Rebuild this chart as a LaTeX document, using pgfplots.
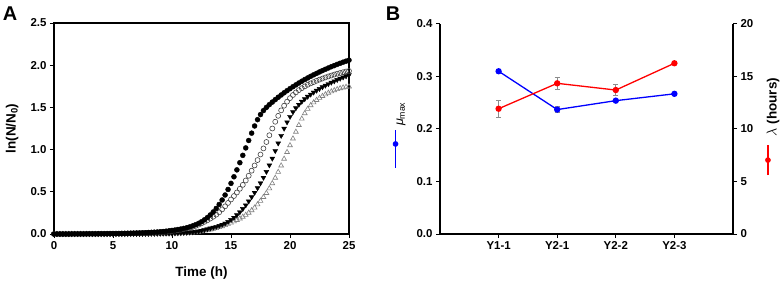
\documentclass[border=0pt]{standalone}
\usepackage{pgfplots}
\pgfplotsset{compat=1.18}
\usepackage{fontspec}
\setmainfont{Liberation Sans}
\begin{document}
\begin{tikzpicture}
\useasboundingbox (0,0) rectangle (782bp,282bp);
\pgfplotsset{
  every axis/.append style={
    scale only axis,
    axis line style={line width=1.1bp},
    tick style={line width=1bp, black},
    tick align=outside,
    major tick length=4bp,
    tick label style={font=\bfseries\fontsize{11.5}{12}\selectfont},
    /pgf/number format/assume math mode=true,
    label style={font=\bfseries\fontsize{13.5}{14}\selectfont},
  }
}
% ---------------- Panel A ----------------
\begin{axis}[at={(54bp,48bp)}, anchor=south west, width=295bp, height=211bp,
  xmin=0, xmax=25, ymin=0, ymax=2.5,
  xtick={0,5,...,25}, ytick={0,0.5,...,2.5},
  yticklabel style={/pgf/number format/.cd, fixed, fixed zerofill, precision=1},
  xtick pos=bottom, ytick pos=left,
  xlabel={Time (h)}, ylabel={ln(N/N\textsubscript{0})},
  xlabel style={at={(axis description cs:0.5,-0.185)}, anchor=center},
  ylabel style={at={(axis description cs:-0.142,0.5)}, anchor=center},
]
\addplot[only marks, mark=triangle, mark size=2.8bp, mark options={black!50, line width=0.6bp}] coordinates {
(0,0)(0.25,0)(0.5,0)(0.75,0)(1,0)(1.25,0)(1.5,0)(1.75,0)(2,0)(2.25,0)(2.5,0)(2.75,0)(3,0)(3.25,0)(3.5,0)(3.75,0)(4,0)(4.25,0)(4.5,0)(4.75,0)(5,0)(5.25,0)(5.5,0.001)(5.75,0.001)(6,0.001)(6.25,0.001)(6.5,0.001)(6.75,0.001)(7,0.002)(7.25,0.002)(7.5,0.002)(7.75,0.002)(8,0.002)(8.25,0.003)(8.5,0.003)(8.75,0.003)(9,0.004)(9.25,0.004)(9.5,0.005)(9.75,0.005)(10,0.006)(10.25,0.007)(10.5,0.008)(10.75,0.009)(11,0.010)(11.25,0.012)(11.5,0.014)(11.75,0.017)(12,0.020)(12.25,0.025)(12.5,0.031)(12.75,0.038)(13,0.045)(13.25,0.052)(13.5,0.060)(13.75,0.069)(14,0.080)(14.25,0.091)(14.5,0.104)(14.75,0.118)(15,0.133)(15.25,0.148)(15.5,0.165)(15.75,0.183)(16,0.203)(16.25,0.226)(16.5,0.251)(16.75,0.280)(17,0.312)(17.25,0.350)(17.5,0.392)(17.75,0.437)(18,0.485)(18.25,0.540)(18.5,0.600)(18.75,0.665)(19,0.735)(19.25,0.810)(19.5,0.890)(19.75,0.970)(20,1.050)(20.25,1.130)(20.5,1.210)(20.75,1.290)(21,1.365)(21.25,1.430)(21.5,1.482)(21.75,1.524)(22,1.558)(22.25,1.587)(22.5,1.612)(22.75,1.634)(23,1.654)(23.25,1.672)(23.5,1.688)(23.75,1.702)(24,1.715)(24.25,1.726)(24.5,1.735)(24.75,1.742)(25,1.747)};
\addplot[only marks, mark=triangle*, mark size=2.8bp, mark options={black, rotate=180}] coordinates {
(0,0)(0.25,0)(0.5,0)(0.75,0)(1,0)(1.25,0)(1.5,0)(1.75,0)(2,0)(2.25,0)(2.5,0)(2.75,0)(3,0)(3.25,0)(3.5,0)(3.75,0)(4,0)(4.25,0)(4.5,0)(4.75,0)(5,0.001)(5.25,0.001)(5.5,0.001)(5.75,0.001)(6,0.001)(6.25,0.001)(6.5,0.002)(6.75,0.002)(7,0.002)(7.25,0.002)(7.5,0.003)(7.75,0.003)(8,0.003)(8.25,0.004)(8.5,0.004)(8.75,0.005)(9,0.005)(9.25,0.006)(9.5,0.007)(9.75,0.007)(10,0.008)(10.25,0.009)(10.5,0.011)(10.75,0.012)(11,0.014)(11.25,0.016)(11.5,0.019)(11.75,0.022)(12,0.026)(12.25,0.032)(12.5,0.040)(12.75,0.049)(13,0.058)(13.25,0.067)(13.5,0.077)(13.75,0.087)(14,0.098)(14.25,0.111)(14.5,0.126)(14.75,0.145)(15,0.168)(15.25,0.194)(15.5,0.224)(15.75,0.259)(16,0.298)(16.25,0.341)(16.5,0.388)(16.75,0.438)(17,0.490)(17.25,0.545)(17.5,0.603)(17.75,0.668)(18,0.738)(18.25,0.815)(18.5,0.895)(18.75,0.985)(19,1.075)(19.25,1.165)(19.5,1.250)(19.75,1.325)(20,1.390)(20.25,1.445)(20.5,1.492)(20.75,1.533)(21,1.569)(21.25,1.600)(21.5,1.628)(21.75,1.654)(22,1.678)(22.25,1.700)(22.5,1.721)(22.75,1.741)(23,1.760)(23.25,1.778)(23.5,1.795)(23.75,1.811)(24,1.827)(24.25,1.842)(24.5,1.857)(24.75,1.871)(25,1.885)};
\addplot[only marks, mark=o, mark size=2.5bp, mark options={black!75, line width=0.6bp}] coordinates {
(0,0)(0.25,0)(0.5,0)(0.75,0)(1,0)(1.25,0)(1.5,0)(1.75,0.001)(2,0.001)(2.25,0.001)(2.5,0.001)(2.75,0.001)(3,0.002)(3.25,0.002)(3.5,0.002)(3.75,0.002)(4,0.003)(4.25,0.003)(4.5,0.003)(4.75,0.004)(5,0.004)(5.25,0.005)(5.5,0.005)(5.75,0.006)(6,0.006)(6.25,0.007)(6.5,0.008)(6.75,0.009)(7,0.010)(7.25,0.011)(7.5,0.012)(7.75,0.013)(8,0.015)(8.25,0.016)(8.5,0.018)(8.75,0.020)(9,0.022)(9.25,0.025)(9.5,0.028)(9.75,0.032)(10,0.036)(10.25,0.040)(10.5,0.045)(10.75,0.051)(11,0.058)(11.25,0.066)(11.5,0.074)(11.75,0.084)(12,0.096)(12.25,0.111)(12.5,0.127)(12.75,0.144)(13,0.163)(13.25,0.183)(13.5,0.205)(13.75,0.229)(14,0.257)(14.25,0.292)(14.5,0.328)(14.75,0.368)(15,0.409)(15.25,0.450)(15.5,0.492)(15.75,0.536)(16,0.582)(16.25,0.634)(16.5,0.690)(16.75,0.750)(17,0.812)(17.25,0.876)(17.5,0.942)(17.75,1.014)(18,1.090)(18.25,1.170)(18.5,1.250)(18.75,1.330)(19,1.400)(19.25,1.465)(19.5,1.520)(19.75,1.568)(20,1.610)(20.25,1.647)(20.5,1.678)(20.75,1.705)(21,1.728)(21.25,1.749)(21.5,1.768)(21.75,1.785)(22,1.800)(22.25,1.815)(22.5,1.829)(22.75,1.842)(23,1.855)(23.25,1.867)(23.5,1.878)(23.75,1.889)(24,1.899)(24.25,1.908)(24.5,1.917)(24.75,1.925)(25,1.932)};
\addplot[only marks, mark=*, mark size=2.5bp, mark options={black}] coordinates {
(0,0)(0.25,0)(0.5,0)(0.75,0)(1,0)(1.25,0)(1.5,0.001)(1.75,0.001)(2,0.001)(2.25,0.001)(2.5,0.001)(2.75,0.002)(3,0.002)(3.25,0.002)(3.5,0.002)(3.75,0.003)(4,0.003)(4.25,0.003)(4.5,0.004)(4.75,0.004)(5,0.005)(5.25,0.005)(5.5,0.006)(5.75,0.006)(6,0.007)(6.25,0.008)(6.5,0.009)(6.75,0.010)(7,0.011)(7.25,0.012)(7.5,0.013)(7.75,0.015)(8,0.017)(8.25,0.019)(8.5,0.021)(8.75,0.023)(9,0.026)(9.25,0.029)(9.5,0.033)(9.75,0.037)(10,0.042)(10.25,0.047)(10.5,0.053)(10.75,0.059)(11,0.066)(11.25,0.074)(11.5,0.084)(11.75,0.096)(12,0.110)(12.25,0.126)(12.5,0.145)(12.75,0.168)(13,0.195)(13.25,0.226)(13.5,0.262)(13.75,0.303)(14,0.350)(14.25,0.403)(14.5,0.462)(14.75,0.528)(15,0.600)(15.25,0.678)(15.5,0.760)(15.75,0.845)(16,0.932)(16.25,1.020)(16.5,1.108)(16.75,1.195)(17,1.280)(17.25,1.355)(17.5,1.415)(17.75,1.462)(18,1.500)(18.25,1.533)(18.5,1.563)(18.75,1.592)(19,1.620)(19.25,1.647)(19.5,1.673)(19.75,1.698)(20,1.722)(20.25,1.745)(20.5,1.767)(20.75,1.789)(21,1.810)(21.25,1.830)(21.5,1.849)(21.75,1.868)(22,1.886)(22.25,1.903)(22.5,1.920)(22.75,1.936)(23,1.952)(23.25,1.967)(23.5,1.982)(23.75,1.996)(24,2.010)(24.25,2.023)(24.5,2.036)(24.75,2.048)(25,2.060)};
\end{axis}
% ---------------- Panel B, left axis ----------------
\begin{axis}[at={(440bp,48bp)}, anchor=south west, width=293bp, height=210bp,
  xmin=0, xmax=5, ymin=0, ymax=0.4,
  axis x line*=bottom, axis y line*=left, axis line style={-},
  xtick={1,2,3,4}, xticklabels={Y1-1,Y2-1,Y2-2,Y2-3},
  ytick={0,0.1,...,0.4},
  yticklabel style={/pgf/number format/.cd, fixed, fixed zerofill, precision=1},
  ylabel={{\itshape μ}\textsubscript{max}},
  ylabel style={at={(axis description cs:-0.133,0.571)}, anchor=center, font=\fontsize{12.5}{13}\selectfont},
  legend image code/.code={\draw[draw=blue, line width=1.6bp] (0bp,-19bp) -- (0bp,19bp); \fill[fill=blue] (0bp,5bp) circle (2.6bp);},
  legend style={at={(axis description cs:-0.145,0.405)}, anchor=center, draw=none, fill=none, inner sep=0pt},
]
\addlegendimage{blue}
\addlegendentry{}
\addplot[blue, line width=1.3bp, mark=*, mark size=2.5bp,
  error bars/.cd, y dir=both, y explicit,
  error bar style={black!45, line width=0.7bp},
  error mark options={rotate=90, black!45, mark size=2.5bp, line width=0.7bp}]
  coordinates {(1,0.310) +- (0,0.002) (2,0.237) +- (0,0.006) (3,0.254) +- (0,0.002) (4,0.267) +- (0,0.002)};
\end{axis}
% ---------------- Panel B, right axis ----------------
\begin{axis}[at={(440bp,48bp)}, anchor=south west, width=293bp, height=210bp,
  xmin=0, xmax=5, ymin=0, ymax=20,
  axis x line=none, axis y line*=right, axis line style={-},
  ytick={0,5,...,20},
  ylabel={$\lambda$ \textbf{(hours)}},
  ylabel style={at={(axis description cs:1.137,0.605)}, anchor=center, rotate=0},
  legend image code/.code={\draw[draw=red, line width=1.6bp] (0bp,-15bp) -- (0bp,15bp); \fill[fill=red] (0bp,0bp) circle (2.6bp);},
  legend style={at={(axis description cs:1.126,0.352)}, anchor=center, draw=none, fill=none, inner sep=0pt},
]
\addlegendimage{red}
\addlegendentry{}
\addplot[red, line width=1.3bp, mark=*, mark size=2.5bp,
  error bars/.cd, y dir=both, y explicit,
  error bar style={black!45, line width=0.7bp},
  error mark options={rotate=90, black!45, mark size=2.5bp, line width=0.7bp}]
  coordinates {(1,11.93) +- (0,0.8) (2,14.35) +- (0,0.55) (3,13.71) +- (0,0.5) (4,16.26) +- (0,0.1)};
\end{axis}
\node[font=\bfseries\fontsize{20}{20}\selectfont] at (10bp,268bp) {A};
\node[font=\bfseries\fontsize{20}{20}\selectfont] at (393bp,268bp) {B};
\end{tikzpicture}
\end{document}
